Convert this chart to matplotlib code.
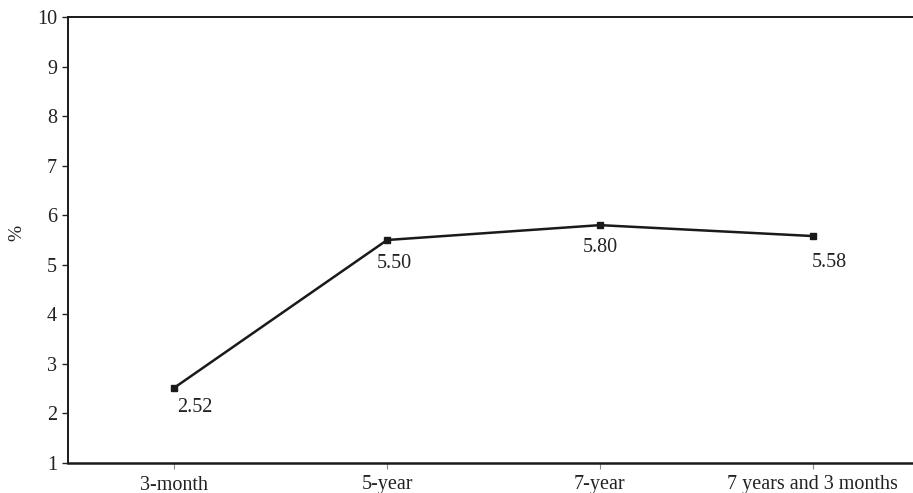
import matplotlib
matplotlib.use("Agg")
import matplotlib.pyplot as plt

categories = ["3-month", "5-year", "7-year", "7 years and 3 months"]
values = [2.52, 5.50, 5.80, 5.58]
value_labels = ["2.52", "5.50", "5.80", "5.58"]
y_ticks = [1, 2, 3, 4, 5, 6, 7, 8, 9, 10]

plt.rcParams["font.family"] = ["Liberation Serif", "DejaVu Serif"]

fig = plt.figure(figsize=(9.13, 4.93), dpi=100)
ax = fig.add_axes([68/913, 30/493, (919-68)/913, 446/493])

x = list(range(len(categories)))
ax.plot(x, values, color="#1a1a1a", lw=1.8, marker="s", ms=5, mfc="#1a1a1a", mec="#1a1a1a")

label_offsets = [(15, -14), (5, -17), (0, -16), (12, -19)]
for xi, v, t, off in zip(x, values, value_labels, label_offsets):
    ax.annotate(t, (xi, v), xytext=off, textcoords="offset points",
                ha="center", va="center", fontsize=14.5, color="#222222")

ax.set_xlim(-0.5, 3.5)
ax.set_ylim(1, 10)
ax.set_yticks(y_ticks)
ax.set_xticks(x)
ax.set_xticklabels(categories)
ax.tick_params(axis="y", direction="out", length=4, width=1, labelsize=14.5, pad=4, colors="#222222")
ax.tick_params(axis="x", direction="out", length=4, width=0.8, labelsize=14.5, pad=5, color="#888888", labelcolor="#222222")
ax.spines["right"].set_visible(False)
ax.spines["top"].set_linewidth(1.4)
ax.spines["left"].set_linewidth(1.4)
ax.spines["bottom"].set_linewidth(1.8)
for s in ax.spines.values():
    s.set_color("#1a1a1a")
ax.set_ylabel("%", fontsize=14, color="#222222")
ax.yaxis.set_label_coords(-0.050, 0.516)

fig.savefig("out.png", dpi=100)
